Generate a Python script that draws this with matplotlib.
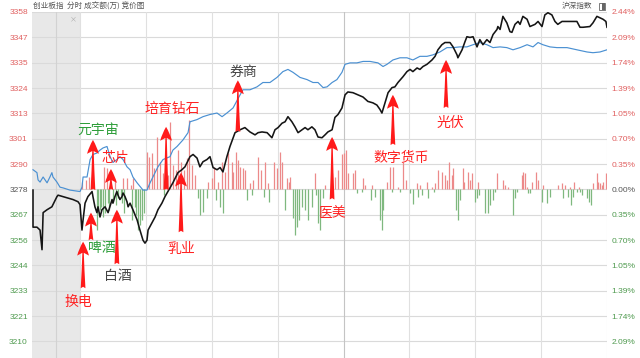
import matplotlib
matplotlib.use('Agg')
import matplotlib.pyplot as plt
from matplotlib.patches import Rectangle
import numpy as np

plt.rcParams['font.family'] = ['Noto Sans CJK SC', 'DejaVu Sans']

# time = minutes after 9:30 (negative part = call auction), values = % vs previous close
cyb_t = [-21.4, -21.4, -19.6, -18.2, -17.3, -16.8, -15.0, -12.8, -10.5, -10.0, -7.7, -5.5, -3.2, -0.9, 0.0,
         0.9, 1.4, 2.3, 3.6, 5.5, 5.9, 6.8, 7.7, 8.2, 9.1, 10.0, 11.4, 12.8, 14.6, 15.0, 15.9, 16.8, 17.3,
         18.2, 19.1, 19.6, 20.5, 21.4, 21.9, 22.8, 24.1, 26.0, 27.3, 28.7, 29.6, 30.5, 31.0, 32.8, 34.2,
         35.5, 37.3, 38.7, 41.0, 42.3, 44.6, 46.4, 47.8, 50.1, 51.5, 53.3, 54.6, 56.0, 57.8, 59.2, 60.6,
         62.4, 63.8, 65.1, 66.9, 68.3, 70.6, 72.9, 75.1, 77.4, 79.7, 81.1, 82.9, 85.2, 87.4, 88.8, 90.2,
         92.0, 93.4, 94.7, 96.5, 97.9, 99.3, 101.1, 102.5, 103.8, 105.6, 107.0, 108.4, 110.2, 111.6, 112.9,
         114.8, 116.1, 117.5, 119.3, 120.7, 122.0, 124.3, 126.6, 128.9, 131.1, 133.4, 135.2, 136.6, 137.5,
         138.9, 140.3, 142.1, 143.4, 144.8, 147.1, 148.9, 150.3, 151.6, 153.5, 154.8, 156.2, 158.0, 160.3,
         161.7, 163.0, 164.8, 166.2, 168.5, 169.9, 171.7, 172.1, 174.0, 175.3, 176.2, 177.6, 179.0, 180.8,
         182.1, 183.5, 185.3, 186.7, 188.1, 189.9, 190.3, 191.3, 192.6, 194.4, 195.8, 196.7, 198.1, 199.5,
         200.4, 201.7, 203.6, 204.9, 207.2, 208.6, 210.4, 211.7, 213.1, 214.9, 216.3, 217.6, 219.5, 221.8,
         224.0, 226.3, 227.7, 229.1, 232.2, 233.6, 235.4, 236.8, 238.2, 239.5, 240.0]
cyb_pct = [-0.01, -0.52, -0.52, -0.56, -0.83, -0.32, -0.28, -0.24, -0.10, -0.08, -0.10, -0.12, -0.14, -0.17, -0.21,
           -0.56, -0.42, -0.19, -0.10, -0.03, -0.10, -0.24, -0.32, -0.24, -0.38, -0.28, -0.24, -0.32, -0.14, -0.19,
           -0.10, -0.03, -0.08, -0.14, -0.10, -0.05, -0.10, -0.17, -0.24, -0.19, -0.28, -0.42, -0.56, -0.70, -0.74,
           -0.70, -0.56, -0.46, -0.38, -0.28, -0.19, -0.10, 0.02, 0.09, 0.23, 0.27, 0.31, 0.45, 0.48, 0.43, 0.31,
           0.38, 0.41, 0.45, 0.30, 0.27, 0.30, 0.24, 0.45, 0.59, 0.78, 0.82, 0.85, 0.79, 0.75, 0.78, 0.79, 0.78,
           0.71, 0.82, 0.85, 0.91, 0.93, 1.00, 0.93, 0.86, 0.78, 0.82, 0.85, 0.82, 0.86, 0.82, 0.72, 0.71, 0.75,
           0.79, 0.82, 0.99, 1.03, 1.12, 1.30, 1.34, 1.33, 1.30, 1.27, 1.21, 1.19, 1.16, 1.10, 1.05, 1.19, 1.33,
           1.40, 1.41, 1.47, 1.55, 1.62, 1.65, 1.62, 1.67, 1.65, 1.69, 1.72, 1.78, 1.83, 1.92, 1.99, 2.02, 2.02,
           1.96, 1.85, 1.81, 1.92, 2.03, 2.10, 2.09, 2.10, 1.96, 2.06, 1.99, 2.06, 2.02, 2.13, 2.20, 2.24, 2.20,
           2.38, 2.29, 2.17, 2.16, 2.27, 2.31, 2.27, 2.38, 2.34, 2.24, 2.27, 2.31, 2.24, 2.40, 2.43, 2.40, 2.31,
           2.27, 2.31, 2.31, 2.31, 2.31, 2.23, 2.23, 2.24, 2.29, 2.38, 2.36, 2.34, 2.31, 2.23]

hs_t = [-21.4, -19.6, -19.1, -18.2, -16.8, -15.0, -13.7, -12.8, -12.3, -10.5, -9.1, -7.7, -4.6, 0.0,
        0.9, 1.4, 3.2, 4.6, 5.9, 7.7, 9.1, 10.5, 12.3, 13.7, 15.0, 16.8, 18.2, 19.6, 21.4, 22.8, 24.1, 26.0,
        28.7, 30.5, 31.9, 33.2, 35.5, 37.8, 41.0, 42.3, 44.2, 46.9, 49.2, 50.1, 53.3, 56.0, 59.2, 62.4, 64.7,
        66.9, 69.7, 72.9, 74.2, 77.4, 80.6, 83.3, 86.5, 89.7, 92.4, 94.7, 97.0, 100.2, 103.4, 106.1, 108.4,
        110.7, 112.5, 114.8, 117.0, 119.3, 120.7, 123.0, 126.1, 128.9, 132.1, 135.7, 138.0, 139.8, 142.5,
        145.7, 148.9, 151.6, 154.8, 158.0, 160.7, 163.9, 167.1, 169.9, 173.0, 176.2, 179.0, 182.1, 185.3,
        188.1, 191.3, 194.4, 197.2, 200.4, 203.6, 206.3, 208.6, 210.8, 214.0, 217.2, 221.8, 226.3, 230.9,
        233.6, 236.8, 240.0]
hs_pct = [0.27, 0.23, 0.13, 0.10, 0.17, 0.09, 0.17, 0.23, 0.17, 0.10, 0.03, 0.02, -0.01, -0.03,
          0.03, 0.17, 0.17, 0.41, 0.48, 0.50, 0.54, 0.57, 0.59, 0.45, 0.37, 0.41, 0.45, 0.41, 0.31, 0.27, 0.17,
          0.09, -0.01, -0.01, 0.09, 0.17, 0.31, 0.41, 0.45, 0.54, 0.59, 0.68, 0.78, 0.93, 0.96, 1.00, 1.03, 1.05,
          1.00, 1.05, 1.12, 1.30, 1.37, 1.37, 1.41, 1.47, 1.47, 1.54, 1.62, 1.65, 1.61, 1.54, 1.51, 1.47, 1.47,
          1.40, 1.41, 1.47, 1.51, 1.61, 1.72, 1.74, 1.74, 1.76, 1.76, 1.74, 1.69, 1.72, 1.78, 1.81, 1.81, 1.78,
          1.83, 1.83, 1.85, 1.89, 1.95, 1.95, 1.96, 1.96, 1.99, 2.02, 1.99, 1.95, 1.96, 1.95, 1.92, 1.95, 1.99,
          1.96, 2.02, 1.99, 1.96, 1.95, 1.95, 1.92, 1.89, 1.88, 1.89, 1.92]

bar_t = [0.9, 2.7, 4.1, 5.5, 7.7, 8.2, 9.1, 9.6, 10.5, 10.9, 11.4, 12.3, 12.8, 13.2, 13.7, 15.0, 15.9, 16.4,
         17.3, 18.7, 19.1, 19.6, 20.0, 21.4, 23.2, 23.7, 24.1, 25.0, 25.5, 26.4, 27.3, 28.2, 29.1, 30.5, 31.4,
         32.8, 33.7, 35.1, 36.4, 37.8, 38.2, 38.7, 40.1, 41.0, 42.3, 43.7, 44.6, 46.0, 47.4, 48.7, 49.6, 51.0,
         52.4, 53.7, 54.6, 56.0, 57.8, 58.3, 60.1, 61.0, 61.9, 62.8, 63.8, 64.7, 65.1, 66.0, 67.4, 69.2, 69.7,
         71.0, 71.9, 72.9, 74.2, 75.1, 76.0, 77.4, 78.3, 78.7, 81.1, 82.4, 83.7, 84.2, 85.6, 86.0, 88.3, 89.7,
         91.1, 92.0, 93.4, 94.3, 95.2, 95.6, 97.0, 97.9, 98.8, 99.7, 101.1, 102.5, 103.8, 105.6, 107.0, 107.5,
         108.4, 109.3, 110.7, 111.6, 114.3, 114.8, 116.1, 117.5, 119.3, 120.2, 121.1, 122.0, 124.3, 125.2,
         126.1, 128.4, 128.9, 129.8, 132.5, 133.0, 134.3, 136.6, 137.5, 138.0, 139.8, 141.2, 142.1, 142.5,
         144.8, 145.7, 147.1, 148.4, 150.3, 151.6, 153.5, 153.9, 154.8, 155.7, 158.0, 158.5, 160.3, 161.2,
         161.7, 163.0, 164.8, 166.2, 167.1, 168.0, 169.4, 169.9, 171.2, 172.1, 173.0, 174.4, 174.9, 176.7,
         177.6, 178.5, 179.9, 180.8, 181.2, 181.6, 184.4, 185.8, 186.7, 188.1, 189.0, 189.9, 192.6, 193.5,
         194.9, 197.2, 198.1, 199.0, 201.3, 201.7, 202.6, 203.6, 204.0, 204.9, 205.8, 207.7, 208.6, 210.4,
         210.8, 212.7, 214.0, 217.7, 219.5, 219.9, 220.9, 222.2, 223.1, 223.6, 224.5, 225.0, 226.3, 227.2,
         227.7, 228.6, 230.9, 231.8, 232.7, 233.6, 235.4, 235.9, 236.8, 237.7, 238.2, 239.5]
bar_v = [0.10, 0.13, 0.17, 0.10, -0.56, -0.28, -0.28, -0.24, -0.38, 0.31, -0.32, 0.30, -0.19, -0.28, 0.20, -0.17,
         0.13, -0.21, -0.12, -0.08, -0.19, 0.16, -0.32, 0.16, 0.06, -0.42, 0.16, -0.24, -0.35, -0.56, -0.49, -0.42,
         -0.32, 0.52, 0.45, 0.50, 0.30, 0.72, 0.37, 0.23, -0.08, 0.10, 0.20, 0.93, 0.34, 0.27, 0.54, 0.37, 0.27,
         0.43, 0.96, 0.34, 0.20, -0.12, -0.35, -0.31, -0.12, 0.10, 0.16, 0.31, -0.14, 0.10, -0.24, 0.37, -0.32,
         0.24, 0.50, 0.37, 0.24, 0.52, 0.41, 0.31, 0.30, 0.27, -0.14, 0.09, -0.08, 0.13, 0.45, 0.27, -0.10, 0.37,
         0.09, -0.17, 0.37, 0.30, 0.52, 0.37, -0.28, 0.16, 0.10, 0.17, -0.39, -0.63, -0.52, -0.42, -0.24, -0.28,
         -0.42, -0.24, 0.23, -0.08, -0.46, -0.56, -0.12, 0.06, -0.10, 0.23, 0.17, 0.27, 0.48, 0.50, 0.54, 0.23,
         0.23, 0.27, -0.05, -0.03, 0.16, 0.06, -0.14, 0.06, -0.10, -0.42, -0.56, -0.28, 0.10, 0.31, -0.03, 0.31,
         0.03, -0.03, 0.37, 0.13, -0.05, -0.20, 0.09, -0.10, 0.06, -0.08, 0.10, -0.12, 0.03, -0.03, 0.09, 0.27,
         0.24, 0.20, 0.13, 0.37, 0.20, 0.30, -0.28, -0.42, -0.14, 0.30, 0.10, 0.24, 0.13, 0.23, -0.17, -0.12,
         0.10, -0.08, -0.32, -0.32, -0.21, -0.14, -0.03, 0.23, 0.13, 0.06, 0.03, -0.35, -0.12, -0.03, 0.20, 0.24,
         0.23, 0.03, -0.05, -0.05, 0.10, 0.24, 0.13, -0.17, 0.06, -0.19, -0.10, 0.06, 0.09, -0.12, 0.06, -0.10,
         0.03, -0.21, -0.10, 0.10, -0.03, 0.03, -0.03, -0.08, -0.12, -0.17, -0.21, 0.09, 0.23, 0.10, 0.09, 0.06,
         0.10, 0.23]

left_labels = ['3358', '3347', '3335', '3324', '3313', '3301', '3290',
               '3278', '3267', '3256', '3244', '3233', '3221', '3210']
right_labels = ['2.44%', '2.09%', '1.74%', '1.39%', '1.05%', '0.70%', '0.35%',
                '0.00%', '0.35%', '0.70%', '1.05%', '1.39%', '1.74%', '2.09%']
tick_pct = np.arange(7, -7, -1) * 2.44 / 7

RED = '#ff2222'
GREEN = '#2e9e3a'
DARK = '#444444'
# label, colour, arrow x, arrow tip, arrow tail, text x, text y
notes = [
    ('元宇宙', GREEN, 5.9, 0.68, -0.01, 8.2, 0.82),
    ('芯片', RED, 14.1, 0.28, -0.01, 15.9, 0.43),
    ('啤酒', GREEN, 5.0, -0.32, -0.70, 10.0, -0.81),
    ('换电', RED, 1.4, -0.72, -1.36, -0.9, -1.55),
    ('白酒', DARK, 16.8, -0.28, -1.03, 17.3, -1.19),
    ('培育钻石', RED, 39.2, 0.86, -0.01, 41.9, 1.11),
    ('乳业', RED, 46.0, 0.23, -0.59, 46.0, -0.82),
    ('券商', DARK, 71.9, 1.50, 0.79, 74.2, 1.61),
    ('医美', RED, 114.8, 0.72, -0.14, 115.2, -0.32),
    ('数字货币', RED, 142.5, 1.30, 0.61, 146.2, 0.43),
    ('光伏', RED, 166.7, 1.78, 1.12, 168.5, 0.92),
]

fig = plt.figure(figsize=(6.4, 3.58), dpi=100)
ax = fig.add_axes([32 / 640, 0, 575 / 640, 1 - 12 / 358])
x0 = -21.86
ax.set_xlim(x0, 240)
ax.set_ylim(-2.32, 2.44)
ax.axvspan(x0, 0, color='#e8e8e8', lw=0, zorder=0)

for y in tick_pct:
    ax.axhline(y, color='#dadada', lw=0.8, zorder=1)
for x in [-10.9] + list(range(0, 241, 30)):
    c = '#c4c4c4' if x == 120 else '#e0e0e0'
    if x < 0:
        c = '#d2d2d2'
    ax.axvline(x, color=c, lw=0.8, zorder=1)

bar_t = np.array(bar_t)
bar_v = np.array(bar_v)
up = bar_v > 0
ax.vlines(bar_t[up], 0, bar_v[up], colors='#ec8a8a', lw=0.9, zorder=2)
ax.vlines(bar_t[~up], 0, bar_v[~up], colors='#7fb87f', lw=0.9, zorder=2)

ax.plot(hs_t, hs_pct, color='#4a90d2', lw=0.85, zorder=3)
ax.plot(cyb_t, cyb_pct, color='#151515', lw=1.15, zorder=4)

for label, col, ax_x, tip, tail, tx, ty in notes:
    ax.annotate('', xy=(ax_x, tip), xytext=(ax_x, tail),
                arrowprops=dict(arrowstyle='fancy,head_length=1.0,head_width=0.85,tail_width=0.34',
                                fc='#ff1a1a', ec='none', shrinkA=0, shrinkB=0, mutation_scale=10),
                zorder=5)
    ax.text(tx, ty, label, color=col, fontsize=10, ha='center', va='center', zorder=6)

for s in ax.spines.values():
    s.set_visible(False)
ax.set_xticks([])
ax.set_yticks(tick_pct, left_labels)
ax.tick_params(axis='y', length=0, pad=3, labelsize=6)

ax2 = ax.twinx()
ax2.set_ylim(ax.get_ylim())
ax2.set_yticks(tick_pct, right_labels)
ax2.tick_params(axis='y', length=0, pad=3, labelsize=6)
for s in ax2.spines.values():
    s.set_visible(False)

for axis in (ax, ax2):
    for i, lab in enumerate(axis.get_yticklabels()):
        lab.set_family(['Liberation Sans', 'DejaVu Sans'])
        if i < 7:
            lab.set_color('#e06060')
        elif i == 7:
            lab.set_color('#555555')
        else:
            lab.set_color('#4f9a4f')

fig.text(33 / 640, 1 - 6 / 358, '创业板指  分时 成交额(万) 竞价图', fontsize=5.5,
         color='#555555', va='center')
fig.text(562 / 640, 1 - 6 / 358, '沪深指数', fontsize=5.5, color='#555555', va='center')
fig.text(73 / 640, 1 - 19 / 358, '×', fontsize=5, color='#aaaaaa', ha='center', va='center')
fig.patches.append(Rectangle((599 / 640, 1 - 10 / 358), 6 / 640, 7 / 358, fill=False,
                             ec='#666666', lw=0.6, transform=fig.transFigure))
fig.patches.append(Rectangle((602 / 640, 1 - 10 / 358), 3 / 640, 7 / 358, fc='#666666',
                             ec='none', transform=fig.transFigure))

fig.savefig('out.png', dpi=100)
